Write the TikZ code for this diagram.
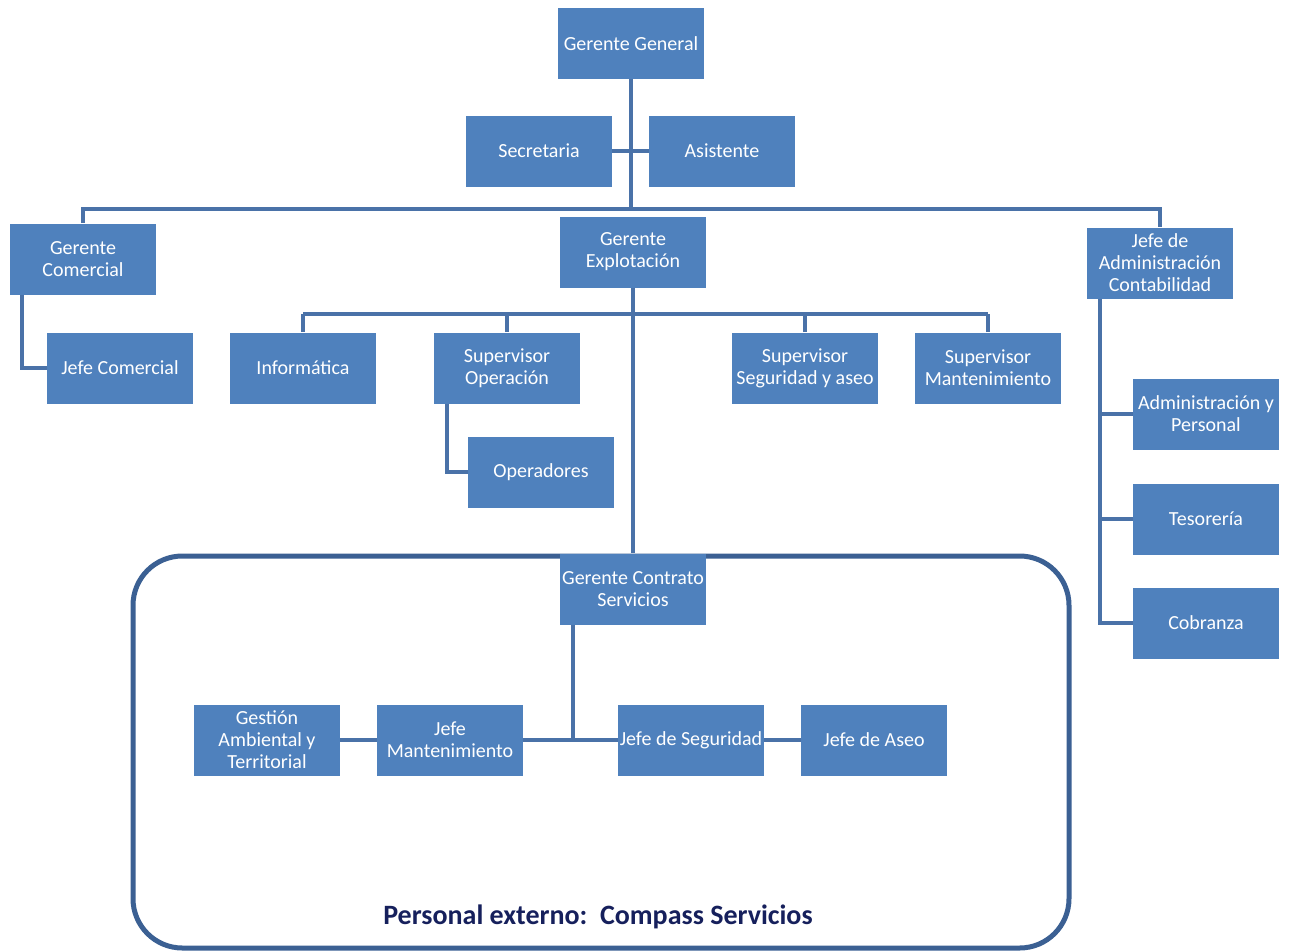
\documentclass[tikz,border=0pt]{standalone}
\usepackage{fontspec}
\setmainfont{Carlito}
\definecolor{boxblue}{RGB}{79,129,189}
\definecolor{lnkblue}{RGB}{74,114,168}
\definecolor{frameblue}{RGB}{59,96,147}
\definecolor{navy}{RGB}{22,32,92}
\begin{document}
\begin{tikzpicture}[x=0.75pt,y=-0.75pt,
    box/.style={fill=boxblue,text=white,minimum width=109.5pt,minimum height=53.25pt,
      inner sep=1pt,align=center,font=\fontsize{15}{16.5}\selectfont},
    lnk/.style={draw=lnkblue,line width=3pt},
    frame/.style={draw=frameblue,line width=3.75pt,rounded corners=37pt},
    foot/.style={text=navy,font=\fontsize{21}{24}\selectfont\bfseries}]
  \useasboundingbox (0,0) rectangle (1290,951);
  % the external staff
  \draw[frame] (133,556) rectangle (1069,948);
  \node[foot] (ext) at (598,917) {Personal externo:\ \ Compass Servicios};
  % the boxes
  \node[box] (gg)    at (631,43.5) {Gerente General};
  \node[box] (sec)   at (539,151)  {Secretaria};
  \node[box] (asis)  at (722,151)  {Asistente};
  \node[box] (gcom)  at (83,259)   {Gerente\\Comercial};
  \node[box] (gexp)  at (633,252)  {Gerente\\Explotación};
  \node[box] (jadm)  at (1160,263) {Jefe de\\Administración\\Contabilidad};
  \node[box] (jcom)  at (120,368)  {Jefe Comercial};
  \node[box] (info)  at (303,368)  {Informática};
  \node[box] (sop)   at (507,368)  {Supervisor\\Operación};
  \node[box] (sseg)  at (805,368)  {Supervisor\\Seguridad y aseo};
  \node[box] (smant) at (988,368)  {Supervisor\\Mantenimiento};
  \node[box] (oper)  at (541,472)  {Operadores};
  \node[box] (admp)  at (1206,414) {Administración y\\Personal};
  \node[box] (teso)  at (1206,519) {Tesorería};
  \node[box] (cobr)  at (1206,623) {Cobranza};
  \node[box] (gcs)   at (633,589)  {Gerente Contrato\\Servicios};
  \node[box] (gamb)  at (267,740)  {Gestión\\Ambiental y\\Territorial};
  \node[box] (jmant) at (450,740)  {Jefe\\Mantenimiento};
  \node[box] (jseg)  at (691,740)  {Jefe de Seguridad};
  \node[box] (jaseo) at (874,740)  {Jefe de Aseo};
  % the links
  \coordinate (top) at (631,209);
  \draw[lnk] (gg) -- (top);
  \draw[lnk] (gcom) |- (top) -| (jadm);
  \draw[lnk] (sec) -- (asis);
  \draw[lnk] ([shift={(12,0)}]gcom.south west) |- (jcom);
  \coordinate (exb) at (633,314);
  \draw[lnk] (gexp) -- (gcs);
  \draw[lnk] (info |- exb) -- (smant |- exb);
  \foreach \n in {info,sop,sseg,smant}{
    \draw[lnk] (\n) -- (\n |- exb);
  }
  \draw[lnk] ([shift={(13,0)}]sop.south west) |- (oper);
  \coordinate (adm) at ([shift={(13,0)}]jadm.south west);
  \draw[lnk] (adm) |- (cobr);
  \draw[lnk] (adm |- admp) -- (admp);
  \draw[lnk] (adm |- teso) -- (teso);
  \coordinate (cs) at ([shift={(13,0)}]gcs.south west);
  \draw[lnk] (cs) -- (cs |- jseg);
  \draw[lnk] (gamb) -- (jmant);
  \draw[lnk] (jmant) -- (jseg);
  \draw[lnk] (jseg) -- (jaseo);
\end{tikzpicture}
\end{document}
